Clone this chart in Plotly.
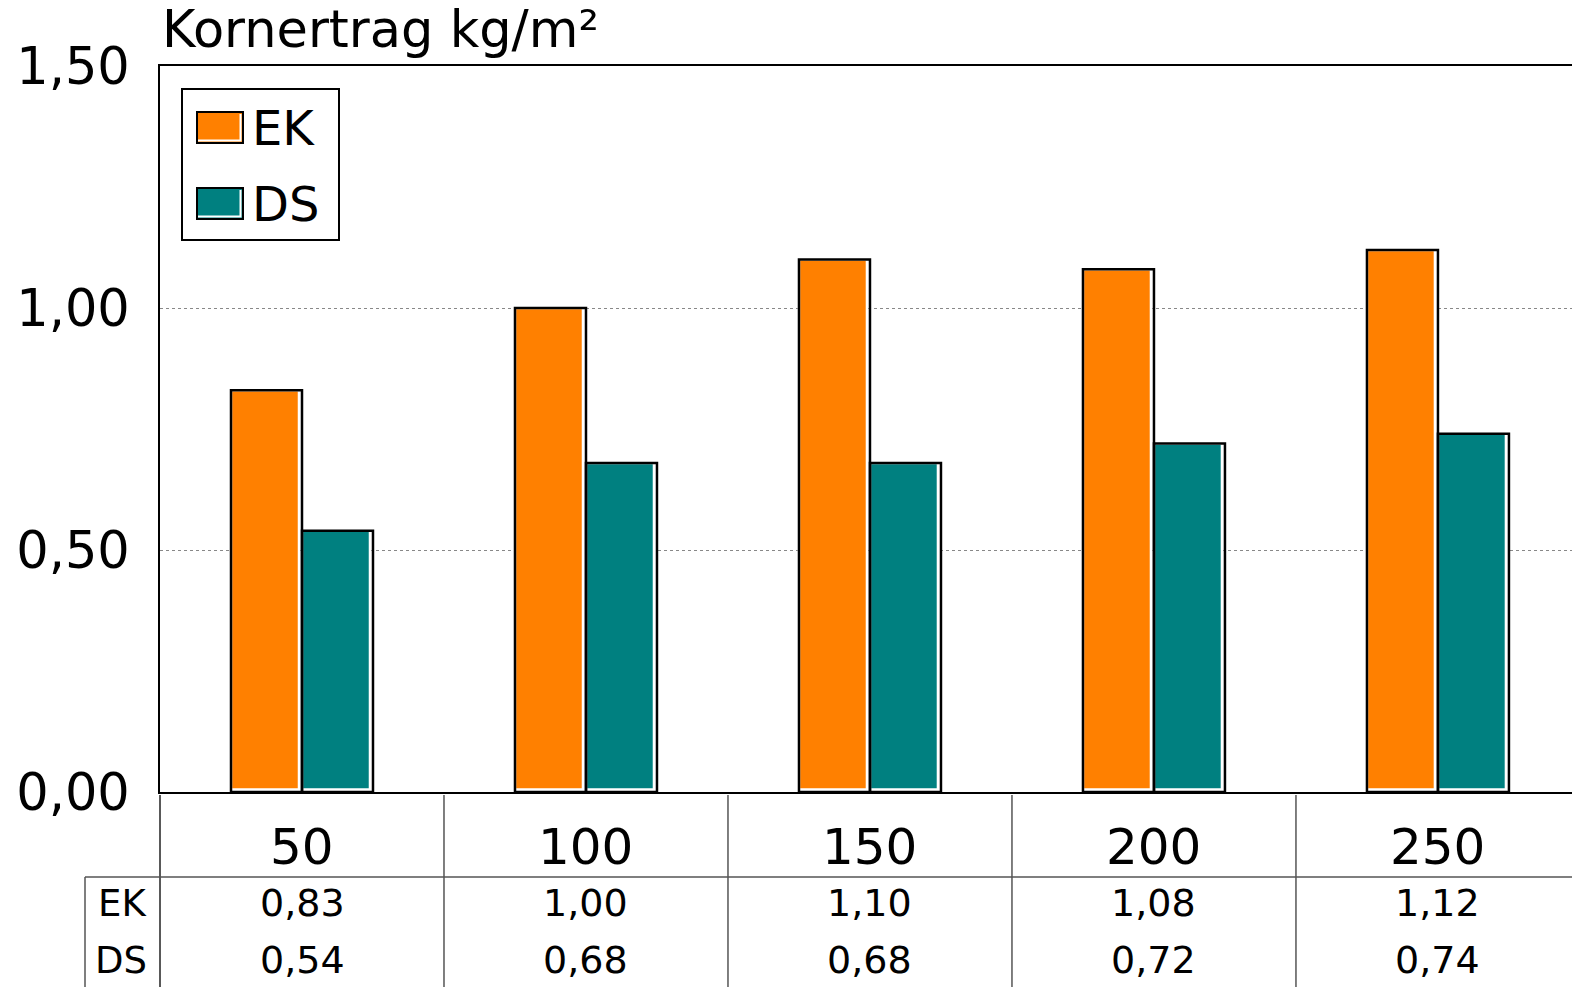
import plotly.graph_objects as go

categories = ["50", "100", "150", "200", "250"]
ek_values = [0.83, 1.00, 1.10, 1.08, 1.12]
ds_values = [0.54, 0.68, 0.68, 0.72, 0.74]
series_names = ["EK", "DS"]
y_ticks = [0, 0.5, 1.0, 1.5]
title_text = "Kornertrag kg/m²"

COL_EK = "#FF8000"
COL_DS = "#008080"
FONT = "Verdana, DejaVu Sans, sans-serif"

W, H = 1572, 987
ML, MT, MB = 160, 66, 195
PH = H - MT - MB            # plot height px
PW = W - ML                 # plot width px
X0 = -0.5
X1 = 4.472
XPX = (X1 - X0) / PW        # x data units per px
YPX = 1.5 / PH              # y data units per px


def fmt(v):
    return f"{v:.2f}".replace(".", ",")


def py(p):   # pixel y -> paper y
    return (H - MB - p) / PH


def px(p):   # pixel x -> paper x
    return (p - ML) / PW


xs = list(range(len(categories)))
BW = 0.25
series = [(series_names[0], ek_values, COL_EK, -BW), (series_names[1], ds_values, COL_DS, 0.0)]

fig = go.Figure()
# coloured body with white inner highlight (right / bottom)
for name, vals, col, off in series:
    b = 2.5 * YPX
    fig.add_trace(go.Bar(
        x=xs, y=[v - b for v in vals], base=b, name=name, showlegend=False,
        offset=off, width=BW - 3 * XPX, hoverinfo="skip",
        marker=dict(color=col, line=dict(color="white", width=2.5)),
    ))
# black outline
for name, vals, col, off in series:
    fig.add_trace(go.Bar(
        x=xs, y=vals, name=name, showlegend=False,
        offset=off, width=BW,
        marker=dict(color="rgba(0,0,0,0)", line=dict(color="black", width=2.5)),
    ))

shapes = []
annotations = []

# title
annotations.append(dict(text=title_text, x=0, y=py(30), xref="paper", yref="paper",
                        xanchor="left", yanchor="middle", showarrow=False,
                        font=dict(size=51, color="black", family=FONT)))

# data table under the chart
unit = 1.0 / (X1 - X0)
line_col = "#555555"
for k in range(len(categories) + 1):
    xp = k * unit
    if xp > 1.01:
        continue
    shapes.append(dict(type="line", xref="paper", yref="paper", x0=xp, x1=xp,
                       y0=py(795), y1=py(H + 5),
                       line=dict(color="#222222" if k == 0 else line_col, width=1.5)))
shapes.append(dict(type="line", xref="paper", yref="paper", x0=px(85), x1=1.0,
                   y0=py(877), y1=py(877), line=dict(color=line_col, width=1.5)))
shapes.append(dict(type="line", xref="paper", yref="paper", x0=px(85), x1=px(85),
                   y0=py(877), y1=py(H + 5), line=dict(color=line_col, width=1.5)))

for i, c in enumerate(categories):
    annotations.append(dict(text=c, x=xs[i], y=py(847), xref="x", yref="paper",
                            xanchor="center", yanchor="middle", showarrow=False,
                            font=dict(size=50, color="black", family=FONT)))
    annotations.append(dict(text=fmt(ek_values[i]), x=xs[i], y=py(903), xref="x", yref="paper",
                            xanchor="center", yanchor="middle", showarrow=False,
                            font=dict(size=38, color="black", family=FONT)))
    annotations.append(dict(text=fmt(ds_values[i]), x=xs[i], y=py(960), xref="x", yref="paper",
                            xanchor="center", yanchor="middle", showarrow=False,
                            font=dict(size=38, color="black", family=FONT)))
for name, yy in [(series_names[0], 903), (series_names[1], 960)]:
    annotations.append(dict(text=name, x=px(149), y=py(yy), xref="paper", yref="paper",
                            xanchor="right", yanchor="middle", showarrow=False,
                            font=dict(size=37, color="black", family=FONT)))

# legend box (manual, larger swatches)
shapes.append(dict(type="rect", xref="paper", yref="paper", x0=px(182), x1=px(339),
                   y0=py(89), y1=py(240), line=dict(color="black", width=2),
                   fillcolor="white", layer="above"))
for name, col, (t, b) in [(series_names[0], COL_EK, (112, 143)), (series_names[1], COL_DS, (188, 219))]:
    shapes.append(dict(type="rect", xref="paper", yref="paper", x0=px(197), x1=px(243),
                       y0=py(t), y1=py(b), line=dict(color="black", width=2),
                       fillcolor=col, layer="above"))
    shapes.append(dict(type="path", xref="paper", yref="paper",
                       path=f"M {px(240.5)} {py(t + 2)} L {px(240.5)} {py(b - 2.5)} L {px(198)} {py(b - 2.5)}",
                       line=dict(color="white", width=2), layer="above"))
    annotations.append(dict(text=name, x=px(250), y=py((t + b) / 2), xref="paper", yref="paper",
                            xanchor="left", yanchor="middle", showarrow=False,
                            font=dict(size=48, color="black", family=FONT)))

fig.update_layout(
    width=W, height=H,
    margin=dict(l=ML, r=0, t=MT, b=MB, pad=0),
    paper_bgcolor="white", plot_bgcolor="white",
    barmode="overlay",
    font=dict(family=FONT, color="black"),
    shapes=shapes, annotations=annotations,
    showlegend=False,
)
fig.update_xaxes(range=[X0, X1], showticklabels=False, ticks="", showgrid=False,
                 showline=True, linecolor="black", linewidth=2, mirror=True, zeroline=False,
                 fixedrange=True)
fig.update_yaxes(range=[0, 1.5], tickvals=y_ticks, ticktext=[fmt(v) for v in y_ticks],
                 tickfont=dict(size=51, color="black", family=FONT), ticks="",
                 ticklabelstandoff=18,
                 showgrid=True, gridcolor="#888888", gridwidth=1, griddash="dot",
                 showline=True, linecolor="black", linewidth=2, zeroline=False,
                 fixedrange=True)

fig.write_html("out.html", config={"displayModeBar": False})
